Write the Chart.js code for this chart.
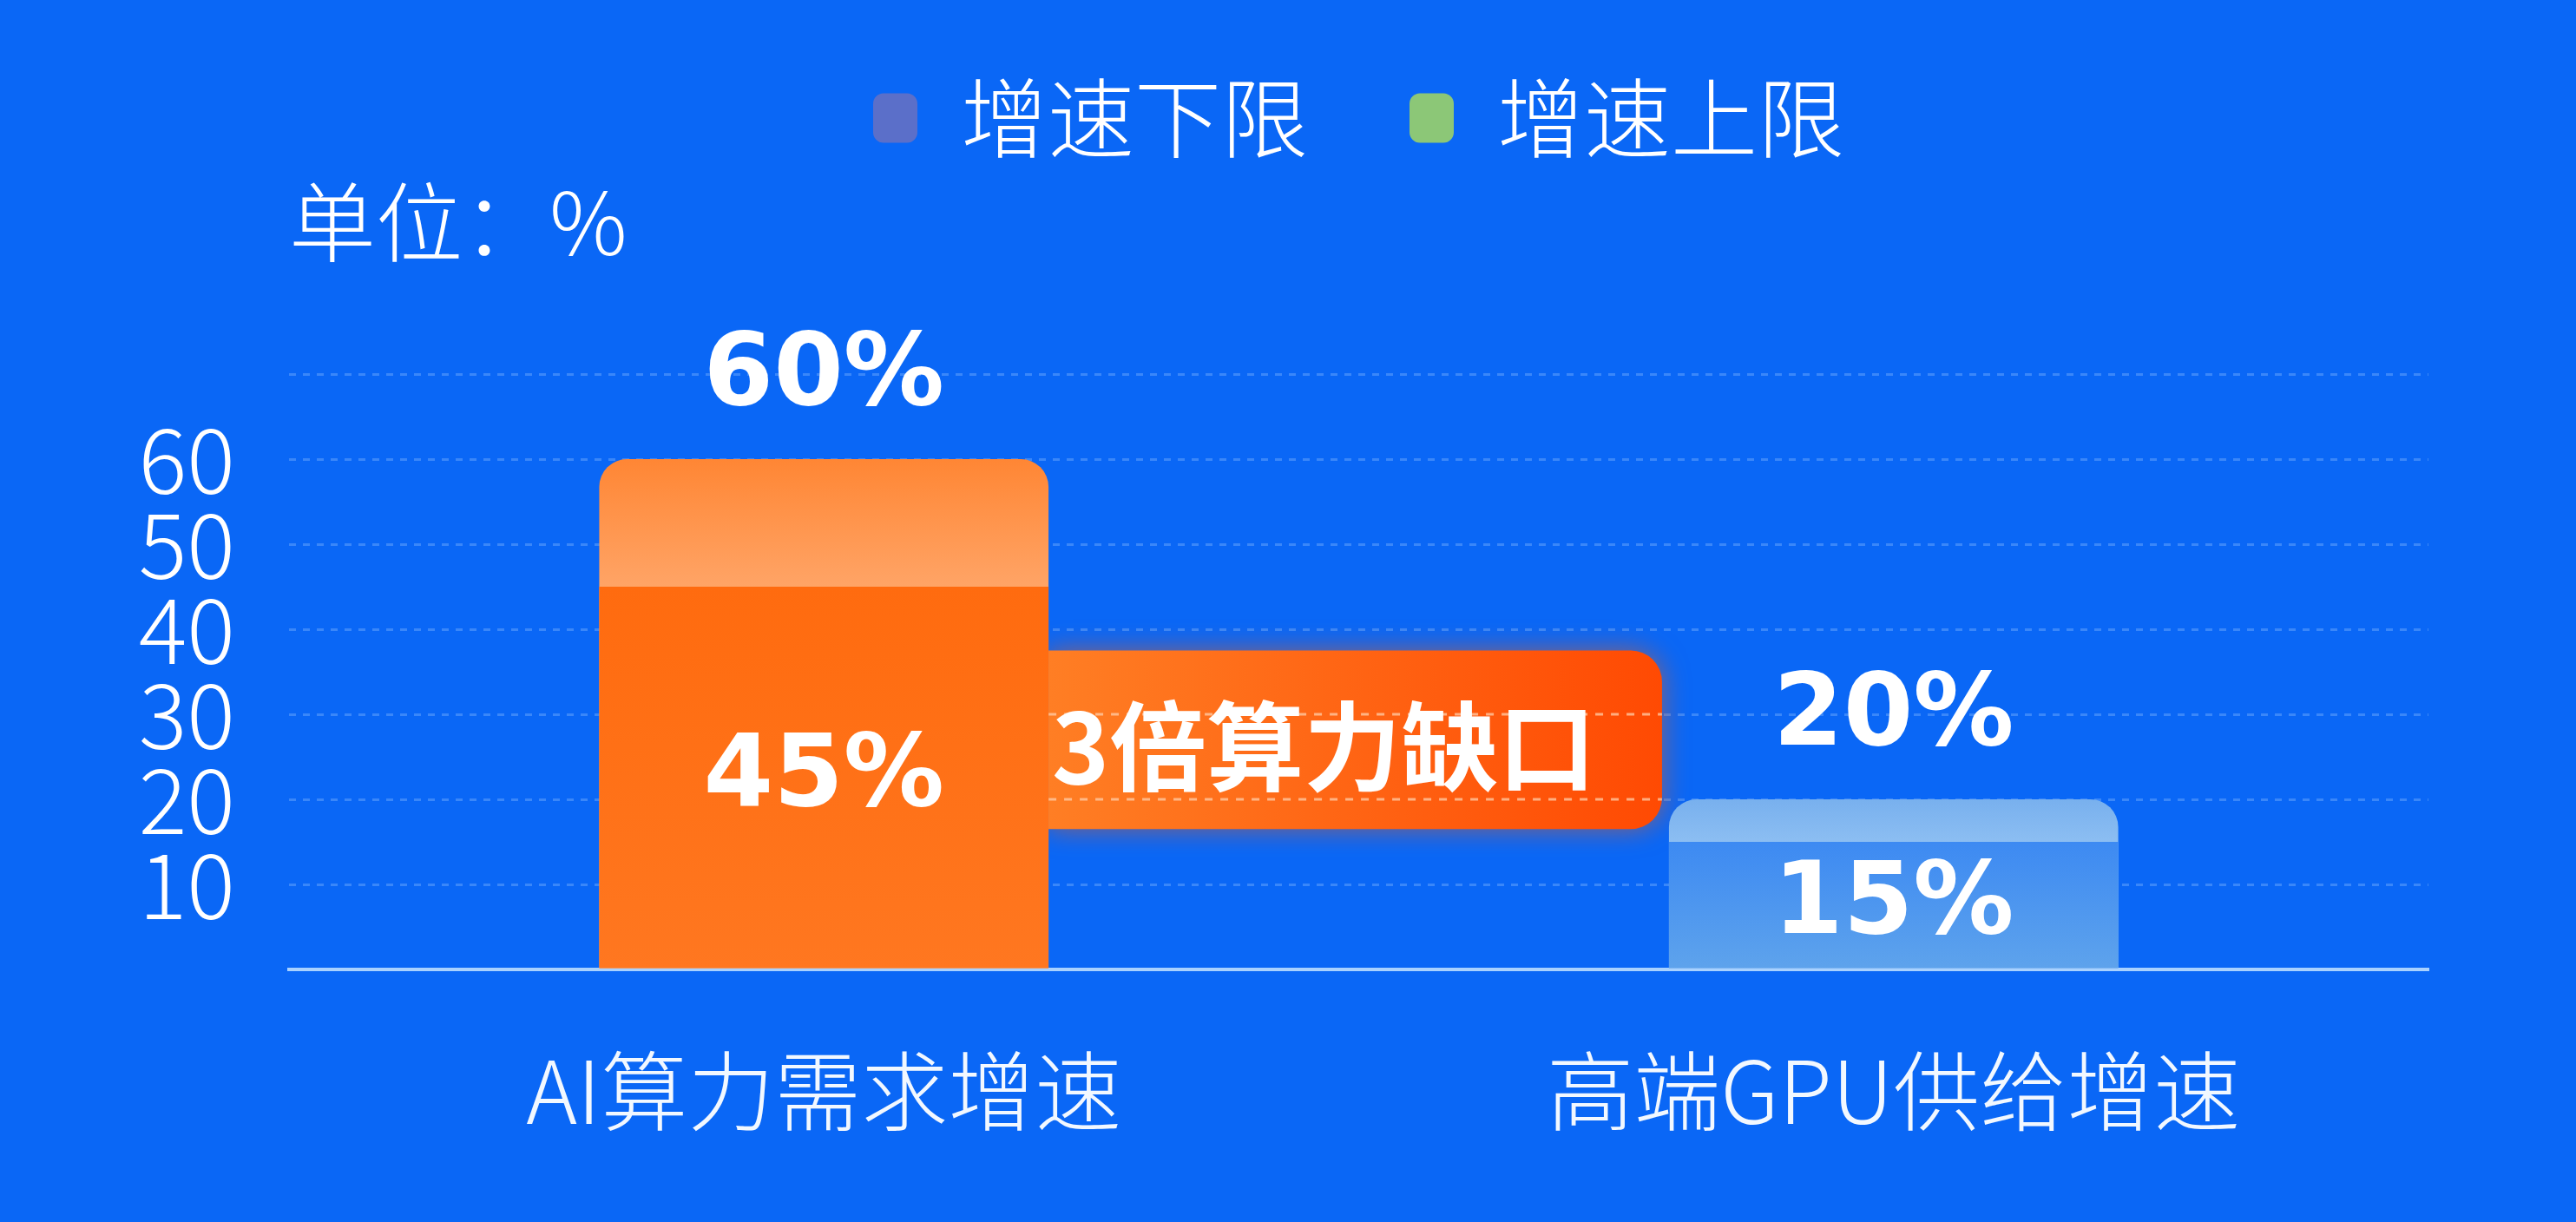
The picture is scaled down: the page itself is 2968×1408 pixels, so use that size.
<!DOCTYPE html>
<html>
<head>
<meta charset="utf-8">
<script src="https://cdn.jsdelivr.net/npm/chart.js@4.4.1/dist/chart.umd.min.js"></script>
<style>
    html, body { margin: 0; padding: 0; background: #0A67F6; }
    #contenedor { width: 2968px; height: 1408px; }
</style>
</head>
<body>
<div id="contenedor"><canvas id="grafico" width="2968" height="1408"></canvas></div>
<script>
// ==============================
// DATOS
// ==============================
const categorias = ['AI算力需求增速', '高端GPU供给增速'];
const limiteInferior = [45, 15];
const limiteSuperior = [60, 20];
const etiquetasSerie = ['增速下限', '增速上限'];
const coloresLeyenda = ['#5B6FC9', '#8CC777'];
const ticksVisibles = [10, 20, 30, 40, 50, 60];
const rangoBrecha = [16.5, 37.5];
const textoBrecha = '3倍算力缺口';
const textoUnidad = '单位：%';

const FUENTE = '"Noto Sans CJK SC", "Noto Sans", sans-serif';
const FUENTE_NUM = '"DejaVu Sans", "Noto Sans", sans-serif';

// ==============================
// UTILIDADES
// ==============================
function degradado(chart, v0, v1, c0, c1) {
    const { ctx, chartArea, scales } = chart;
    if (!chartArea) return c0;
    const g = ctx.createLinearGradient(0, scales.y.getPixelForValue(v0), 0, scales.y.getPixelForValue(v1));
    g.addColorStop(0, c0);
    g.addColorStop(1, c1);
    return g;
}

// ==============================
// PLUGIN: FRANJA "3倍算力缺口"
// ==============================
const pluginBrecha = {
    id: 'brecha',
    beforeDatasetsDraw(chart) {
        const { ctx, scales: { y } } = chart;
        const barras = chart.getDatasetMeta(1).data;
        if (barras.length < 2) return;

        const izq = barras[0].x + barras[0].width / 2;
        const der = barras[1].x - barras[1].width / 2 - 8;
        const arriba = y.getPixelForValue(rangoBrecha[1]);
        const abajo = y.getPixelForValue(rangoBrecha[0]);

        ctx.save();
        const g = ctx.createLinearGradient(izq, 0, der, 0);
        g.addColorStop(0, '#FF7E24');
        g.addColorStop(1, '#FF4A03');
        ctx.shadowColor = 'rgba(255, 90, 0, 0.55)';
        ctx.shadowBlur = 30;
        ctx.fillStyle = g;
        ctx.beginPath();
        ctx.roundRect(izq, arriba, der - izq, abajo - arriba, [0, 36, 36, 0]);
        ctx.fill();
        ctx.restore();

        // lineas punteadas sobre la franja
        ctx.save();
        ctx.strokeStyle = 'rgba(255, 205, 170, 0.75)';
        ctx.lineWidth = 3;
        ctx.setLineDash([9, 9]);
        y.ticks.forEach(t => {
            const py = y.getPixelForValue(t.value);
            if (py > arriba + 4 && py < abajo - 4) {
                ctx.beginPath();
                ctx.moveTo(izq, py);
                ctx.lineTo(der, py);
                ctx.stroke();
            }
        });
        ctx.restore();

        ctx.save();
        ctx.fillStyle = '#FFFFFF';
        ctx.font = 'bold 112px ' + FUENTE;
        ctx.textAlign = 'left';
        ctx.textBaseline = 'middle';
        ctx.fillText(textoBrecha, izq + 4, (arriba + abajo) / 2 + 8);
        ctx.restore();
    }
};

// ==============================
// PLUGIN: ETIQUETAS DE VALOR
// ==============================
const pluginValores = {
    id: 'valores',
    afterDatasetsDraw(chart) {
        const { ctx } = chart;
        ctx.save();
        ctx.fillStyle = '#FFFFFF';
        ctx.font = 'bold 116px ' + FUENTE_NUM;
        ctx.textAlign = 'center';
        ctx.textBaseline = 'middle';

        chart.getDatasetMeta(1).data.forEach((barra, i) => {
            ctx.fillText(limiteSuperior[i] + '%', barra.x, barra.y - 93);
        });
        chart.getDatasetMeta(0).data.forEach((barra, i) => {
            ctx.fillText(limiteInferior[i] + '%', barra.x, (barra.y + barra.base) / 2 + 2);
        });
        ctx.restore();
    }
};

// ==============================
// GRAFICO
// ==============================
const ctx = document.getElementById('grafico').getContext('2d');

new Chart(ctx, {
    type: 'bar',
    data: {
        labels: categorias,
        datasets: [
            {
                label: etiquetasSerie[0],
                data: limiteInferior,
                order: 0,
                backgroundColor: (c) => c.dataIndex === 0
                    ? degradado(c.chart, limiteInferior[0], 0, '#FF6B0F', '#FF7720')
                    : degradado(c.chart, limiteInferior[1], 0, '#3D8AF2', '#5EA3EC'),
                borderWidth: 0
            },
            {
                label: etiquetasSerie[1],
                data: limiteSuperior,
                order: 1,
                backgroundColor: (c) => c.dataIndex === 0
                    ? degradado(c.chart, limiteSuperior[0], limiteInferior[0], '#FF8634', '#FFA466')
                    : degradado(c.chart, limiteSuperior[1], limiteInferior[1], '#78B0EE', '#8CBEF2'),
                borderRadius: { topLeft: 32, topRight: 32, bottomLeft: 0, bottomRight: 0 },
                borderSkipped: false,
                borderWidth: 0
            }
        ]
    },
    options: {
        responsive: false,
        devicePixelRatio: 1,
        animation: false,
        layout: {
            padding: { top: -31, left: 0, right: 170, bottom: 0 }
        },
        datasets: {
            bar: {
                grouped: false,
                categoryPercentage: 1,
                barPercentage: 0.42
            }
        },
        plugins: {
            tooltip: { enabled: false },
            legend: {
                position: 'top',
                align: 'center',
                fullSize: false,
                labels: {
                    color: '#FFFFFF',
                    font: { family: FUENTE, size: 100, weight: 300 },
                    boxWidth: 51,
                    boxHeight: 57,
                    padding: 117,
                    useBorderRadius: true,
                    borderRadius: 12,
                    generateLabels: () => etiquetasSerie.map((texto, i) => ({
                        text: texto,
                        fillStyle: coloresLeyenda[i],
                        strokeStyle: coloresLeyenda[i],
                        lineWidth: 0,
                        borderRadius: 12,
                        fontColor: '#FFFFFF',
                        hidden: false,
                        datasetIndex: i
                    }))
                }
            },
            title: {
                display: true,
                text: textoUnidad,
                align: 'start',
                fullSize: false,
                weight: 500,
                color: '#FFFFFF',
                font: { family: FUENTE, size: 100, weight: 300 },
                padding: { top: 0, bottom: 115 }
            }
        },
        scales: {
            x: {
                grid: { display: false },
                border: { display: true, color: '#A9D2FF', width: 4 },
                ticks: {
                    color: '#F2F8FF',
                    padding: 72,
                    font: { family: FUENTE, size: 100, weight: 300 }
                },
                afterFit: (escala) => { escala.height = 291; }
            },
            y: {
                min: 0,
                max: 70,
                border: { display: false, dash: [8, 8] },
                grid: {
                    drawTicks: false,
                    lineWidth: 3,
                    color: (c) => c.tick && c.tick.value === 0 ? 'rgba(0,0,0,0)' : 'rgba(150, 196, 255, 0.35)'
                },
                ticks: {
                    stepSize: 10,
                    autoSkip: false,
                    padding: 62,
                    color: '#FFFFFF',
                    font: { family: FUENTE, size: 104, weight: 300 },
                    callback: (v) => ticksVisibles.includes(v) ? String(v) : ''
                },
                afterFit: (escala) => { escala.width = 333; }
            }
        }
    },
    plugins: [pluginBrecha, pluginValores]
});
</script>
</body>
</html>
